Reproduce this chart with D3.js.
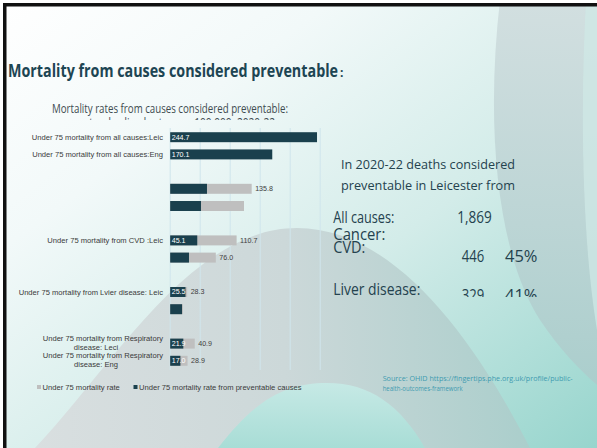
<!DOCTYPE html>
<html><head><meta charset="utf-8">
<script src="https://cdn.jsdelivr.net/npm/d3@7"></script>
<style>html,body{margin:0;padding:0;background:#fff;overflow:hidden}</style>
</head><body><svg id="c" width="597" height="448"></svg>
<script>
// ---------- data ----------
const categories = [
  "Under 75 mortality from all causes:Leic", "Under 75 mortality from all causes:Eng", "gap1",
  "Under 75 mortality from cancer: Leic", "Under 75 mortality from cancer: Eng", "gap2",
  "Under 75 mortality from CVD :Leic", "Under 75 mortality from CVD: Eng", "gap3",
  "Under 75 mortality from Lvier disease: Leic", "Under 75 mortality from liver disease: Eng", "gap4",
  "Under 75 mortality from Respiratory disease: Leci", "Under 75 mortality from Respiratory disease: Eng"
];
const axisLabelLines = [
  ["Under 75 mortality from all causes:Leic"], ["Under 75 mortality from all causes:Eng"], [],
  [], [], [],
  ["Under 75 mortality from CVD :Leic"], [], [],
  ["Under 75 mortality from Lvier disease: Leic"], [], [],
  ["Under 75 mortality from Respiratory", "disease:  Leci"], ["Under 75 mortality from Respiratory", "disease: Eng"]
];
const totalRate       = [null, null, null, 135.8, 123.0, null, 110.7, 76.0, null, 28.3, 21.3, null, 40.9, 28.9];
const preventableRate = [244.7, 170.1, null, 61.3, 51.3, null, 45.1, 31.3, null, 25.5, 19.7, null, 21.9, 17.0];
const showTotalLabel       = [false, false, false, true, false, false, true, true, false, true, false, false, true, true];
const showPreventableLabel = [true, true, false, false, false, false, true, false, false, true, false, false, true, true];
const xTicks = [0, 50, 100, 150, 200, 250];
const legendLabels = ["Under 75 mortality rate", "Under 75 mortality rate from preventable causes"];
const pageTitle = "Mortality from causes considered preventable";
const chartTitle = ["Mortality rates from causes considered preventable:", "age standardised rates per 100,000, 2020-22"];
const panelHeading = ["In 2020-22 deaths considered", "preventable in Leicester from"];
const panelCauses = ["All causes:", "Cancer:", "CVD:", "Liver disease:"];
const panelCounts = ["1,869", "", "446", "329"];
const panelShares = ["", "", "45%", "41%"];
const sourceLines = ["Source: OHID https://fingertips.phe.org.uk/profile/public-", "health-outcomes-framework"];

// ---------- drawing ----------
const svg = d3.select("#c");
const defs = svg.append("defs");
function lin(id, x1, y1, x2, y2, stops, units) {
  const g = defs.append("linearGradient").attr("id", id)
    .attr("x1", x1).attr("y1", y1).attr("x2", x2).attr("y2", y2);
  if (units) g.attr("gradientUnits", units);
  stops.forEach(s => g.append("stop").attr("offset", s[0]).attr("stop-color", s[1]));
}
lin("bg", 0, 0, 1, 1, [[0, "#ffffff"], [0.28, "#f2f9f9"], [0.6, "#d3ece9"], [1, "#97d5cd"]]);
lin("hill", 30, 0, 540, 0, [[0, "#d9dfe0"], [0.5, "#ccd8d9"], [1, "#a9cecb"]], "userSpaceOnUse");
lin("hill2", 0, 383, 0, 448, [[0, "#c6e9e5"], [1, "#a8ddd6"]], "userSpaceOnUse");
lin("arc", 0, 0, 0, 448, [[0, "#d2dfe0"], [0.5, "#bcd5d5"], [1, "#a4cbc9"]], "userSpaceOnUse");

svg.append("rect").attr("width", 597).attr("height", 448).attr("fill", "url(#bg)");
svg.append("path").attr("d", "M500 0 C486 120 495 250 540 320 C560 350 580 370 597 385 L597 0 Z").attr("fill", "url(#arc)");
svg.append("path").attr("d", "M586 0 C580 110 582 240 597 330 L597 0 Z").attr("fill", "#cfe8e6").attr("opacity", 0.75);
svg.append("path").attr("d", "M35 448 C110 370 190 228 297 228 C390 228 470 330 530 448 Z").attr("fill", "url(#hill)");
svg.append("path").attr("d", "M218 448 C255 400 285 383 327 383 C370 383 400 405 425 448 Z").attr("fill", "url(#hill2)");
// slide frame
svg.append("rect").attr("x", 0).attr("y", 0).attr("width", 597).attr("height", 3).attr("fill", "#ffffff");
svg.append("rect").attr("x", 0).attr("y", 0).attr("width", 3).attr("height", 448).attr("fill", "#ffffff");
svg.append("rect").attr("x", 3).attr("y", 3).attr("width", 594).attr("height", 3.5).attr("fill", "#111");
svg.append("rect").attr("x", 3).attr("y", 3).attr("width", 3.5).attr("height", 445).attr("fill", "#111");

// page title
const tg = svg.append("g").attr("fill", "#1d4553")
  .attr("font-family", "Open Sans, sans-serif").attr("font-weight", 700);
tg.append("text").attr("x", 8).attr("y", 77).attr("font-size", 18.5).text(pageTitle)
  .attr("textLength", 330).attr("lengthAdjust", "spacingAndGlyphs");
tg.append("text").attr("x", 340).attr("y", 77).attr("font-size", 12).text(":");

// chart title
defs.append("clipPath").attr("id", "ctClip").append("rect").attr("x", 0).attr("y", 0).attr("width", 400).attr("height", 120);
const ct = svg.append("g").attr("clip-path", "url(#ctClip)")
  .attr("font-family", "Open Sans, sans-serif").attr("font-size", 12).attr("fill", "#404b50").attr("text-anchor", "middle");
ct.append("text").attr("x", 170).attr("y", 113).text(chartTitle[0]).attr("textLength", 236).attr("lengthAdjust", "spacingAndGlyphs");
ct.append("text").attr("x", 170).attr("y", 126.5).text(chartTitle[1]).attr("textLength", 210).attr("lengthAdjust", "spacingAndGlyphs");

// chart
const x = d3.scaleLinear().domain([0, 250]).range([170.2, 320.2]);
const y = d3.scaleBand().domain(d3.range(categories.length)).range([128, 370]).paddingInner(0.42).paddingOuter(0.245);
const chart = svg.append("g");
chart.selectAll("line.grid").data(xTicks).join("line").attr("class", "grid")
  .attr("x1", d => x(d)).attr("x2", d => x(d)).attr("y1", 128).attr("y2", 370)
  .attr("stroke", "#cfe5ec").attr("stroke-width", 1);

const rows = categories.map((c, i) => ({i, c, total: totalRate[i], prev: preventableRate[i]}));
chart.selectAll("rect.total").data(rows.filter(r => r.total != null)).join("rect").attr("class", "total")
  .attr("x", x(0)).attr("y", r => y(r.i)).attr("height", y.bandwidth())
  .attr("width", r => x(r.total) - x(0)).attr("fill", "#bfbfbf");
chart.selectAll("rect.prev").data(rows.filter(r => r.prev != null)).join("rect").attr("class", "prev")
  .attr("x", x(0)).attr("y", r => y(r.i)).attr("height", y.bandwidth())
  .attr("width", r => x(r.prev) - x(0)).attr("fill", "#1a404d");

const lab = chart.append("g").attr("font-family", "Liberation Sans, Arial, sans-serif").attr("font-size", 7.1);
lab.selectAll("text.tl").data(rows.filter(r => r.total != null && showTotalLabel[r.i])).join("text")
  .attr("x", r => x(r.total) + 3.5).attr("y", r => y(r.i) + y.bandwidth() / 2).attr("dy", "0.35em")
  .attr("fill", "#404040").text(r => r.total.toFixed(1));
lab.selectAll("text.pl").data(rows.filter(r => r.prev != null && showPreventableLabel[r.i])).join("text")
  .attr("x", x(0) + 1.5).attr("y", r => y(r.i) + y.bandwidth() / 2).attr("dy", "0.35em")
  .attr("fill", "#ffffff").text(r => r.prev.toFixed(1));

// category labels
const cl = chart.append("g").attr("font-family", "Liberation Sans, Arial, sans-serif").attr("font-size", 7.6).attr("fill", "#3a3a3a");
rows.forEach(r => {
  const lines = axisLabelLines[r.i];
  if (!lines.length) return;
  const cy = y(r.i) + y.bandwidth() / 2;
  if (lines.length === 1) {
    cl.append("text").attr("x", 163).attr("y", cy).attr("dy", "0.35em").attr("text-anchor", "end").text(lines[0]);
  } else {
    cl.append("text").attr("x", 163).attr("y", cy - 3.5).attr("dy", "0.1em").attr("text-anchor", "end").text(lines[0]);
    cl.append("text").attr("x", 96).attr("y", cy + 3.8).attr("dy", "0.35em").attr("text-anchor", "middle").text(lines[1]);
  }
});

// legend
const lg = svg.append("g").attr("font-family", "Liberation Sans, Arial, sans-serif").attr("font-size", 7.6).attr("fill", "#3a3a3a");
const legendColors = ["#bfbfbf", "#1a404d"];
const legendX = [37, 133.5];
legendLabels.forEach((l, i) => {
  lg.append("rect").attr("x", legendX[i]).attr("y", 385).attr("width", 4).attr("height", 4).attr("fill", legendColors[i]);
  lg.append("text").attr("x", legendX[i] + 5.5).attr("y", 387).attr("dy", "0.35em").text(l);
});

// right panel
const rp = svg.append("g").attr("font-family", "Open Sans, sans-serif").attr("fill", "#24424e");
rp.append("text").attr("x", 341).attr("y", 169).attr("font-size", 13.5).text(panelHeading[0]).attr("textLength", 174).attr("lengthAdjust", "spacingAndGlyphs");
rp.append("text").attr("x", 341).attr("y", 190).attr("font-size", 13.5).text(panelHeading[1]).attr("textLength", 174).attr("lengthAdjust", "spacingAndGlyphs");
defs.append("clipPath").attr("id", "rpClip").append("rect").attr("x", 320).attr("y", 195).attr("width", 260).attr("height", 102);
const rpc = rp.append("g").attr("clip-path", "url(#rpClip)").attr("font-size", 16);
const causeY = [223.3, 240, 252.5, 295];
const causeW = [61, 52, 32, 87];
panelCauses.forEach((c, i) => {
  rpc.append("text").attr("x", 333.3).attr("y", causeY[i]).text(c).attr("textLength", causeW[i]).attr("lengthAdjust", "spacingAndGlyphs");
});
const numY = [223.3, 0, 261.7, 301];
panelCounts.forEach((c, i) => {
  if (!c) return;
  rpc.append("text").attr("x", i === 0 ? 457.3 : 461.7).attr("y", numY[i]).text(c)
    .attr("textLength", i === 0 ? 34.5 : 22.5).attr("lengthAdjust", "spacingAndGlyphs");
});
panelShares.forEach((c, i) => {
  if (!c) return;
  rpc.append("text").attr("x", 505).attr("y", numY[i]).text(c).attr("textLength", 32.5).attr("lengthAdjust", "spacingAndGlyphs");
});

// source
const src = svg.append("g").attr("font-family", "Open Sans, sans-serif").attr("font-size", 6.6).attr("fill", "#3f9bb0");
src.append("text").attr("x", 382.7).attr("y", 380.5).text(sourceLines[0]).attr("textLength", 190).attr("lengthAdjust", "spacingAndGlyphs");
src.append("text").attr("x", 382.7).attr("y", 390.5).text(sourceLines[1]).attr("textLength", 80).attr("lengthAdjust", "spacingAndGlyphs");
</script></body></html>
